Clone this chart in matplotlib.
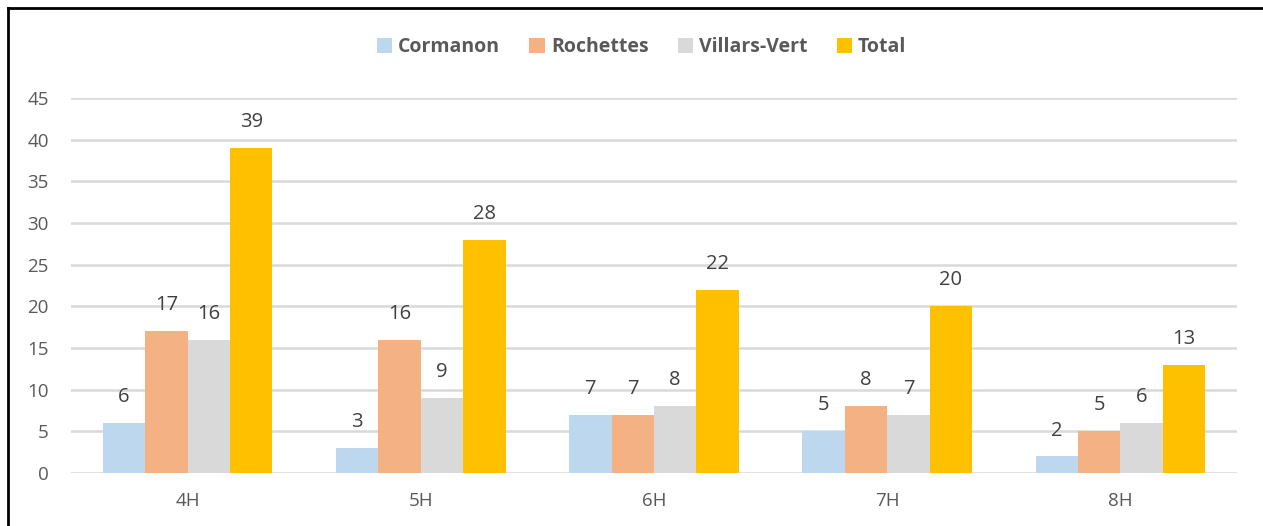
import numpy as np
import matplotlib.pyplot as plt
from matplotlib.lines import Line2D

categories = ["4H", "5H", "6H", "7H", "8H"]
series_names = ["Cormanon", "Rochettes", "Villars-Vert", "Total"]
cormanon = [6, 3, 7, 5, 2]
rochettes = [17, 16, 7, 8, 5]
villars_vert = [16, 9, 8, 7, 6]
total = [39, 28, 22, 20, 13]

colors = ["#bdd7ee", "#f4b183", "#d9d9d9", "#ffc000"]
text_color = "#595959"

plt.rcParams['font.family'] = ['Open Sans', 'DejaVu Sans']

fig = plt.figure(figsize=(12.63, 5.26), dpi=100)
ax = fig.add_axes([71 / 1263, 1 - 473 / 526, (1237 - 71) / 1263, (473 - 98) / 526])

x = np.arange(len(categories))
bar_width = 0.182
all_series = [cormanon, rochettes, villars_vert, total]
for i, (name, values) in enumerate(zip(series_names, all_series)):
    pos = x + (i - 1.5) * bar_width
    bars = ax.bar(pos, values, width=bar_width, color=colors[i], label=name, zorder=3)
    for b, v in zip(bars, values):
        ax.text(b.get_x() + b.get_width() / 2, v + 1.9, str(v), ha="center", va="bottom",
                fontsize=14.5, color="#404040")

ax.set_xlim(-0.5, len(categories) - 0.5)
ax.set_ylim(0, 45)
ax.set_yticks(range(0, 50, 5))
ax.set_xticks(x)
ax.set_xticklabels(categories)
ax.yaxis.grid(True, color="#d9d9d9", linewidth=1.8, zorder=0)
ax.tick_params(axis="both", length=0, labelsize=13.5, colors=text_color)
ax.tick_params(axis="x", pad=14)
ax.tick_params(axis="y", pad=16)
for s in ax.spines.values():
    s.set_visible(False)

leg = fig.legend(loc="upper center", bbox_to_anchor=(0.508, 0.962), ncol=4, frameon=False,
                 handlelength=0.8, handleheight=0.8, handletextpad=0.3, columnspacing=1.5,
                 prop={"size": 14, "weight": "bold"})
for t in leg.get_texts():
    t.set_color(text_color)

# chart border (left and top visible)
fig.add_artist(Line2D([7.5 / 1263, 7.5 / 1263], [0, 1 - 8 / 526], color="black", linewidth=2,
                      transform=fig.transFigure))
fig.add_artist(Line2D([7.5 / 1263, 1], [1 - 8 / 526, 1 - 8 / 526], color="black", linewidth=2,
                      transform=fig.transFigure))

fig.savefig("out.png", dpi=100)
